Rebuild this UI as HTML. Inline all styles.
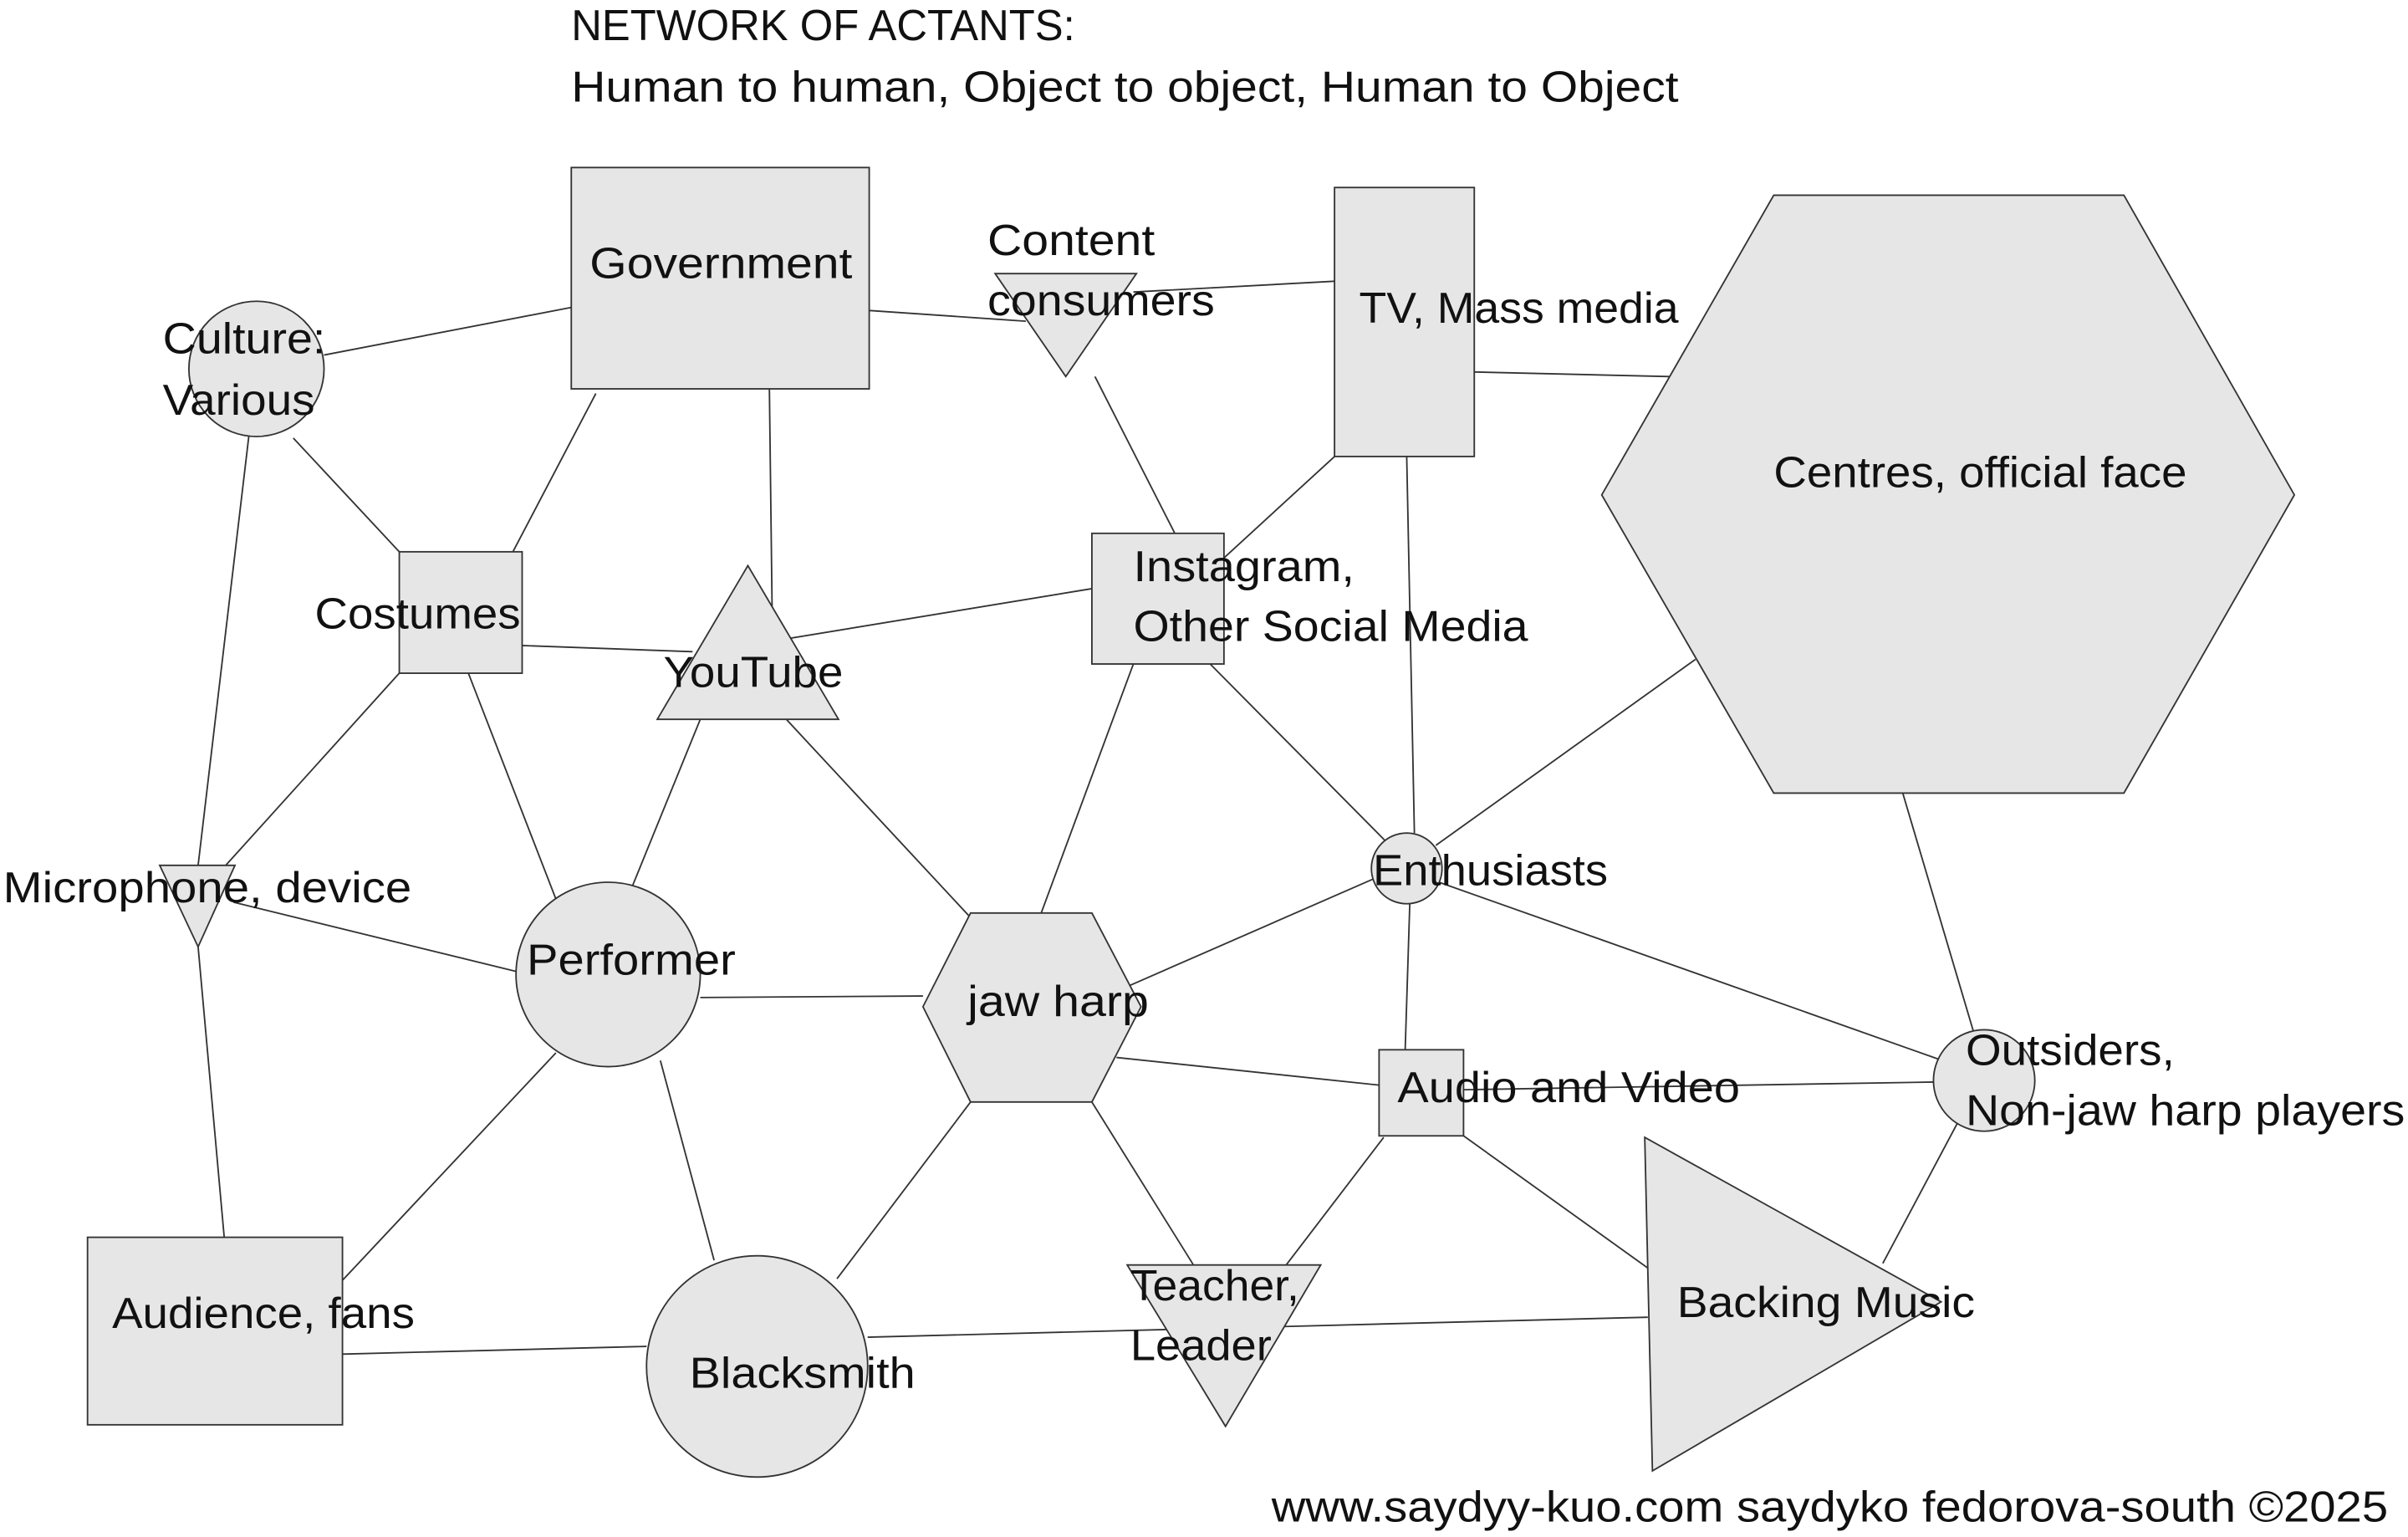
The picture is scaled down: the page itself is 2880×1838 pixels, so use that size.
<!DOCTYPE html>
<html><head><meta charset="utf-8"><style>
html,body{margin:0;padding:0;background:#fff;}
svg{display:block;}
text{font-family:"Liberation Sans",sans-serif;font-size:28px;fill:#111;}
</style></head><body>
<svg width="2880" height="1838" viewBox="0 0 1568 1000" preserveAspectRatio="none" xmlns="http://www.w3.org/2000/svg">
<g stroke="#333" stroke-width="1" fill="none">
<line x1="211" y1="231" x2="372" y2="200"/>
<line x1="566" y1="202" x2="668" y2="209"/>
<line x1="738" y1="190" x2="869" y2="183"/>
<line x1="960" y1="242" x2="1087" y2="245"/>
<line x1="191" y1="285" x2="260" y2="359"/>
<line x1="388" y1="256" x2="334" y2="359"/>
<line x1="501" y1="253" x2="503" y2="415"/>
<line x1="713" y1="245" x2="765" y2="347"/>
<line x1="869" y1="297" x2="797" y2="363"/>
<line x1="340" y1="420" x2="451" y2="424"/>
<line x1="510" y1="416" x2="711" y2="383"/>
<line x1="916" y1="297" x2="921" y2="542"/>
<line x1="788" y1="432" x2="903" y2="548"/>
<line x1="1104" y1="429" x2="935" y2="550"/>
<line x1="162" y1="284" x2="129" y2="563"/>
<line x1="260" y1="438" x2="147" y2="563"/>
<line x1="305" y1="438" x2="362" y2="585"/>
<line x1="456" y1="468" x2="412" y2="576"/>
<line x1="512" y1="468" x2="632" y2="597"/>
<line x1="738" y1="432" x2="678" y2="594"/>
<line x1="152" y1="587" x2="336" y2="632"/>
<line x1="129" y1="616" x2="146" y2="805"/>
<line x1="894" y1="572" x2="736" y2="641"/>
<line x1="918" y1="588" x2="915" y2="683"/>
<line x1="937" y1="574" x2="1262" y2="689"/>
<line x1="1239" y1="516" x2="1285" y2="671"/>
<line x1="456" y1="649" x2="601" y2="648"/>
<line x1="727" y1="688" x2="898" y2="706"/>
<line x1="953" y1="709" x2="1259" y2="704"/>
<line x1="1275" y1="730" x2="1226" y2="822"/>
<line x1="953" y1="739" x2="1073" y2="825"/>
<line x1="901" y1="740" x2="836" y2="825"/>
<line x1="711" y1="717" x2="779" y2="826"/>
<line x1="362" y1="685" x2="223" y2="833"/>
<line x1="430" y1="690" x2="465" y2="820"/>
<line x1="632" y1="717" x2="545" y2="832"/>
<line x1="223" y1="881" x2="421" y2="876"/>
<line x1="565" y1="870" x2="1073" y2="857"/>
</g>
<g stroke="#333" stroke-width="1" fill="#e6e6e6">
<rect x="372" y="109" width="194" height="144"/>
<circle cx="167" cy="240" r="44"/>
<polygon points="648,178 740,178 694,245"/>
<rect x="869" y="122" width="91" height="175"/>
<polygon points="1043,322 1155,127 1383,127 1494,322 1383,516 1155,516"/>
<rect x="260" y="359" width="80" height="79"/>
<polygon points="487,368 428,468 546,468"/>
<rect x="711" y="347" width="86" height="85"/>
<circle cx="916" cy="565" r="23"/>
<polygon points="104,563 153,563 129,616"/>
<circle cx="396" cy="634" r="60"/>
<polygon points="601,655 632,594 711,594 743,655 711,717 632,717"/>
<rect x="898" y="683" width="55" height="56"/>
<circle cx="1292" cy="703" r="33"/>
<polygon points="1071,740 1076,957 1264,847"/>
<rect x="57" y="805" width="166" height="122"/>
<circle cx="493" cy="889" r="72"/>
<polygon points="734,823 860,823 798,928"/>
</g>
<g>
<text x="372" y="26" textLength="328" lengthAdjust="spacingAndGlyphs">NETWORK OF ACTANTS:</text>
<text x="372" y="66" textLength="721" lengthAdjust="spacingAndGlyphs">Human to human, Object to object, Human to Object</text>
<text x="384" y="181" textLength="171" lengthAdjust="spacingAndGlyphs">Government</text>
<text x="106" y="230" textLength="106" lengthAdjust="spacingAndGlyphs">Culture:</text>
<text x="106" y="270" textLength="99" lengthAdjust="spacingAndGlyphs">Various</text>
<text x="643" y="166" textLength="109" lengthAdjust="spacingAndGlyphs">Content</text>
<text x="643" y="205" textLength="148" lengthAdjust="spacingAndGlyphs">consumers</text>
<text x="885" y="210" textLength="208" lengthAdjust="spacingAndGlyphs">TV, Mass media</text>
<text x="1155" y="317" textLength="269" lengthAdjust="spacingAndGlyphs">Centres, official face</text>
<text x="205" y="409" textLength="134" lengthAdjust="spacingAndGlyphs">Costumes</text>
<text x="432" y="447" textLength="117" lengthAdjust="spacingAndGlyphs">YouTube</text>
<text x="738" y="378" textLength="144" lengthAdjust="spacingAndGlyphs">Instagram,</text>
<text x="738" y="417" textLength="257" lengthAdjust="spacingAndGlyphs">Other Social Media</text>
<text x="2" y="587" textLength="266" lengthAdjust="spacingAndGlyphs">Microphone, device</text>
<text x="894" y="576" textLength="153" lengthAdjust="spacingAndGlyphs">Enthusiasts</text>
<text x="343" y="634" textLength="136" lengthAdjust="spacingAndGlyphs">Performer</text>
<text x="630" y="661" textLength="118" lengthAdjust="spacingAndGlyphs">jaw harp</text>
<text x="910" y="717" textLength="223" lengthAdjust="spacingAndGlyphs">Audio and Video</text>
<text x="1280" y="693" textLength="136" lengthAdjust="spacingAndGlyphs">Outsiders,</text>
<text x="1280" y="732" textLength="286" lengthAdjust="spacingAndGlyphs">Non-jaw harp players</text>
<text x="1092" y="857" textLength="194" lengthAdjust="spacingAndGlyphs">Backing Music</text>
<text x="73" y="864" textLength="197" lengthAdjust="spacingAndGlyphs">Audience, fans</text>
<text x="449" y="903" textLength="147" lengthAdjust="spacingAndGlyphs">Blacksmith</text>
<text x="736" y="846" textLength="110" lengthAdjust="spacingAndGlyphs">Teacher,</text>
<text x="736" y="885" textLength="92" lengthAdjust="spacingAndGlyphs">Leader</text>
<text x="828" y="990" textLength="727" lengthAdjust="spacingAndGlyphs">www.saydyy-kuo.com saydyko fedorova-south ©2025</text>
</g>
</svg>
</body></html>
